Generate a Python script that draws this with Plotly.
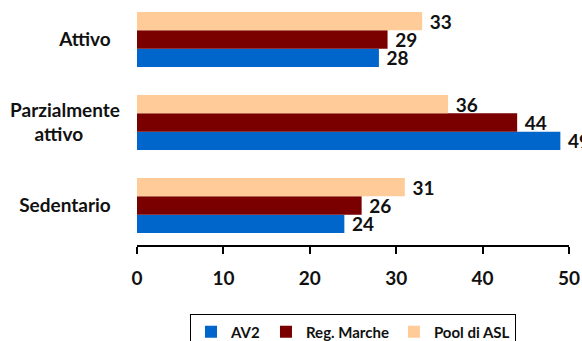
import plotly.graph_objects as go

categories = ["Sedentario", "Parzialmente<br>attivo", "Attivo"]
series_names = ["AV2", "Reg. Marche", "Pool di ASL"]
av2 = [24, 49, 28]
reg_marche = [26, 44, 29]
pool_asl = [31, 36, 33]
colors = ["#0066CC", "#7A0000", "#FFCC99"]
x_ticks = [0, 10, 20, 30, 40, 50]

NB = "\u00a0"
cat_labels = ["Sedentario" + NB * 2, "Parzialmente<br>attivo" + NB * 8, "Attivo" + NB * 2]

fig = go.Figure()
for name, vals, col in zip(series_names, [av2, reg_marche, pool_asl], colors):
    fig.add_trace(go.Bar(
        y=cat_labels, x=vals, name=name, orientation="h",
        marker=dict(color=col, line=dict(width=0)),
        text=[" " + str(v) for v in vals], textposition="outside",
        textfont=dict(family="Lato", size=19, color="#111111", weight="bold"),
        constraintext="none", cliponaxis=False,
    ))

fig.update_layout(
    width=582, height=341,
    margin=dict(l=137, r=13, t=0, b=96, autoexpand=False),
    paper_bgcolor="white", plot_bgcolor="white",
    barmode="group", bargap=0.337, bargroupgap=0,
    font=dict(family="Lato", color="#111111"),
    showlegend=True,
    legend=dict(
        orientation="h", x=0.5, xanchor="center",
        yref="container", y=0.078, yanchor="top",
        bordercolor="black", borderwidth=1,
        font=dict(family="Lato", size=15, weight="bold", color="#111111"),
        traceorder="normal",
    ),
    xaxis=dict(
        range=[0, 50], tickvals=x_ticks, showgrid=False, zeroline=False,
        showline=True, linecolor="black", linewidth=2,
        ticks="outside", ticklen=7, tickwidth=2, tickcolor="black",
        tickfont=dict(family="Lato", size=19, weight="bold", color="#111111"),
        ticklabelstandoff=8,
    ),
    yaxis=dict(
        range=[-0.476, 2.476], showgrid=False, zeroline=False, showline=False,
        ticks="", ticklabelstandoff=16,
        tickfont=dict(family="Lato", size=19, weight="bold", color="#111111"),
    ),
)

fig.write_html("out.html")
